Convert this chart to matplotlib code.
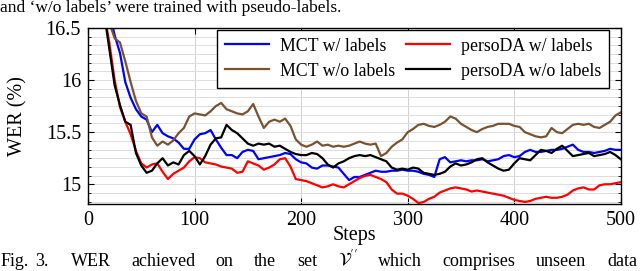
import matplotlib
matplotlib.use("Agg")
import matplotlib.pyplot as plt
from matplotlib.ticker import MultipleLocator

plt.rcParams["font.family"] = ["Liberation Serif", "DejaVu Serif"]
plt.rcParams["mathtext.fontset"] = "stix"

steps = list(range(10, 501, 5))

mct_w = [17.3, 16.95, 16.65, 16.43, 16.26, 15.98, 15.83, 15.72, 15.65, 15.62,
         15.5, 15.57, 15.49, 15.46, 15.44, 15.4, 15.34, 15.34, 15.43, 15.48,
         15.49, 15.52, 15.43, 15.35, 15.28, 15.28, 15.25, 15.31, 15.33, 15.32,
         15.24, 15.25, 15.26, 15.27, 15.28, 15.3, 15.29, 15.24, 15.21, 15.2,
         15.16, 15.15, 15.18, 15.18, 15.17, 15.16, 15.1, 15.04, 15.07, 15.07,
         15.09, 15.11, 15.13, 15.12, 15.12, 15.13, 15.13, 15.14, 15.13, 15.13,
         15.12, 15.1, 15.09, 15.07, 15.24, 15.26, 15.21, 15.22, 15.23, 15.22,
         15.23, 15.23, 15.24, 15.22, 15.23, 15.24, 15.27, 15.28, 15.26, 15.27,
         15.31, 15.33, 15.31, 15.31, 15.32, 15.33, 15.33, 15.34, 15.36, 15.38,
         15.33, 15.31, 15.31, 15.3, 15.31, 15.32, 15.34, 15.33, 15.33]

mct_wo = [17.2, 16.85, 16.55, 16.4, 16.36, 16.18, 15.98, 15.8, 15.68, 15.65,
          15.45, 15.37, 15.41, 15.38, 15.42, 15.49, 15.54, 15.65, 15.68, 15.67,
          15.66, 15.7, 15.75, 15.78, 15.72, 15.7, 15.68, 15.67, 15.7, 15.77,
          15.65, 15.54, 15.6, 15.62, 15.6, 15.63, 15.56, 15.43, 15.38, 15.36,
          15.38, 15.41, 15.37, 15.38, 15.36, 15.37, 15.36, 15.37, 15.39, 15.41,
          15.39, 15.38, 15.39, 15.27, 15.3, 15.36, 15.4, 15.43, 15.5, 15.53,
          15.57, 15.58, 15.56, 15.55, 15.57, 15.6, 15.65, 15.63, 15.58, 15.55,
          15.52, 15.5, 15.53, 15.55, 15.56, 15.58, 15.58, 15.58, 15.56, 15.55,
          15.5, 15.48, 15.46, 15.45, 15.46, 15.54, 15.5, 15.49, 15.53, 15.57,
          15.58, 15.57, 15.58, 15.55, 15.54, 15.57, 15.6, 15.66, 15.69]

perso_w = [16.95, 16.65, 16.36, 16.0, 15.74, 15.6, 15.48, 15.32, 15.2, 15.16,
           15.19, 15.2, 15.12, 15.05, 15.1, 15.13, 15.16, 15.22, 15.26, 15.25,
           15.21, 15.2, 15.19, 15.17, 15.16, 15.15, 15.11, 15.12, 15.22, 15.2,
           15.18, 15.14, 15.16, 15.19, 15.24, 15.25, 15.17, 15.05, 15.04, 15.03,
           15.01, 14.99, 14.97, 14.98, 15.0, 14.98, 14.97, 15.0, 15.03, 15.06,
           15.08, 15.09, 15.07, 15.05, 15.02, 14.95, 14.91, 14.91, 14.89, 14.86,
           14.82, 14.83, 14.86, 14.88, 14.92, 14.94, 14.96, 14.97, 14.96, 14.95,
           14.93, 14.94, 14.93, 14.92, 14.91, 14.9, 14.89, 14.87, 14.85, 14.84,
           14.83, 14.84, 14.86, 14.87, 14.88, 14.87, 14.87, 14.88, 14.9, 14.94,
           14.96, 14.97, 14.95, 14.95, 14.99, 15.0, 15.0, 15.01, 15.02]

perso_wo = [17.0, 16.65, 16.3, 15.95, 15.76, 15.6, 15.57, 15.3, 15.18, 15.11,
            15.13, 15.2, 15.25, 15.18, 15.21, 15.19, 15.28, 15.32, 15.27, 15.19,
            15.27, 15.38, 15.44, 15.45, 15.57, 15.52, 15.49, 15.44, 15.39, 15.37,
            15.39, 15.38, 15.39, 15.36, 15.37, 15.34, 15.31, 15.29, 15.28, 15.28,
            15.3, 15.29, 15.25, 15.19, 15.16, 15.2, 15.22, 15.25, 15.27, 15.28,
            15.27, 15.28, 15.26, 15.24, 15.22, 15.16, 15.14, 15.15, 15.14, 15.16,
            15.15, 15.11, 15.1, 15.09, 15.1, 15.12, 15.17, 15.2, 15.18, 15.19,
            15.21, 15.24, 15.25, 15.21, 15.18, 15.15, 15.13, 15.14, 15.2, 15.25,
            15.24, 15.23, 15.28, 15.33, 15.32, 15.3, 15.34, 15.37, 15.32, 15.27,
            15.28, 15.29, 15.3, 15.27, 15.28, 15.29, 15.31, 15.28, 15.24]

caption_top = "and \u2018w/o labels\u2019 were trained with pseudo-labels."
caption_words = ["Fig.", "3.", "WER", "achieved", "on", "the", "set",
                 "$\\mathcal{V}''$", "which", "comprises", "unseen", "data"]

W, H = 640, 271
fig = plt.figure(figsize=(W / 100, H / 100), dpi=100)
ax = fig.add_axes([0.1375, 0.247, 0.8325, 0.65])

ax.plot(steps, mct_w, color="#0000ff", lw=1.6, label="MCT w/ labels")
ax.plot(steps, mct_wo, color="#7a5230", lw=1.6, label="MCT w/o labels")
ax.plot(steps, perso_w, color="#ff0000", lw=1.6, label="persoDA w/ labels")
ax.plot(steps, perso_wo, color="#000000", lw=1.6, label="persoDA w/o labels")

ax.set_xlim(0, 500)
ax.set_ylim(14.81, 16.5)
ax.set_xticks([0, 100, 200, 300, 400, 500])
ax.set_yticks([15, 15.5, 16, 16.5])
ax.set_yticklabels(["15", "15.5", "16", "16.5"])
ax.yaxis.set_minor_locator(MultipleLocator(1 / 12))
ax.tick_params(which="both", direction="in", top=True, right=True, labelsize=14.5)
ax.tick_params(which="major", length=4, pad=5)
ax.tick_params(which="minor", length=2.5)
ax.grid(True, which="major", axis="x", color="#d0d0d0", lw=0.7)
ax.grid(True, which="both", axis="y", color="#dcdcdc", lw=0.7)
ax.set_axisbelow(True)
for s in ax.spines.values():
    s.set_linewidth(1.0)

ax.set_xlabel("Steps", fontsize=14.5, labelpad=-3)
ax.set_ylabel("WER (%)", fontsize=14.5, labelpad=13)

ax.legend(ncol=2, loc="upper right", bbox_to_anchor=(0.978, 0.99), fontsize=12.8,
          frameon=True, fancybox=False, edgecolor="black", framealpha=1,
          handlelength=2.5, columnspacing=0.6, handletextpad=0.6,
          labelspacing=0.45, borderpad=0.45, borderaxespad=0)

fig.text(0.0, 1 - 12 / H, caption_top, fontsize=12.5, va="baseline", ha="left")

# justified caption line, words spread across the full width
r = fig.canvas.get_renderer()
texts = [fig.text(0, 5 / H, w, fontsize=13, va="baseline", ha="left")
         for w in caption_words]
widths = [t.get_window_extent(r).width for t in texts]
gaps = [6, 22]
free = 637 - 1 - sum(widths) - sum(gaps)
g = free / (len(texts) - 3)
x = 1.0
for i, t in enumerate(texts):
    t.set_x(x / W)
    x += widths[i]
    if i < len(texts) - 1:
        x += gaps[i] if i < 2 else g

fig.savefig("out.png", dpi=100)
